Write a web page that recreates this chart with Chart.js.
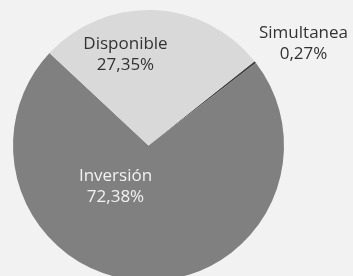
<!DOCTYPE html>
<html>
<head>
<meta charset="utf-8">
<script src="https://cdn.jsdelivr.net/npm/chart.js@4/dist/chart.umd.min.js"></script>
<style>
  html, body { margin: 0; padding: 0; background: #f2f2f2; overflow: hidden; }
  #wrap { position: relative; width: 353px; height: 290px; }
</style>
</head>
<body>
<div id="wrap"><canvas id="pieChart"></canvas></div>
<script>
// Data
var categories = ["Simultanea", "Inversión", "Disponible"];
var shares = [0.27, 72.38, 27.35];
var shareLabels = ["0,27%", "72,38%", "27,35%"];
var sliceColors = ["#404040", "#808080", "#d9d9d9"];

// label placement relative to pie centre (text centre x, first baseline y)
var labelSpots = [
  { dx: 155, dy: -108, color: "#333333" },
  { dx: -33, dy: 35, color: "#f2f2f2" },
  { dx: -23, dy: -97, color: "#333333" }
];

// draws "name / value" labels
var sliceLabels = {
  id: "sliceLabels",
  afterDatasetsDraw: function (chart) {
    var ctx = chart.ctx;
    var meta = chart.getDatasetMeta(0);
    ctx.save();
    ctx.font = "17px 'Open Sans'";
    ctx.textAlign = "center";
    ctx.textBaseline = "alphabetic";
    meta.data.forEach(function (arc, i) {
      var spot = labelSpots[i];
      var x = arc.x + spot.dx;
      var y = arc.y + spot.dy;
      ctx.fillStyle = spot.color;
      ctx.fillText(categories[i], x, y);
      ctx.fillText(shareLabels[i], x, y + 21);
    });
    ctx.restore();
  }
};

var pieCtx = document.getElementById("pieChart").getContext("2d");
var pieChart = new Chart(pieCtx, {
  type: "pie",
  data: {
    labels: categories,
    datasets: [{
      data: shares,
      backgroundColor: sliceColors,
      borderWidth: 0
    }]
  },
  options: {
    responsive: true,
    maintainAspectRatio: false,
    animation: false,
    rotation: 51.5,
    layout: { padding: { left: 13, right: 69, top: 10, bottom: 9 } },
    plugins: {
      legend: { display: false },
      tooltip: { enabled: false }
    }
  },
  plugins: [sliceLabels]
});
</script>
</body>
</html>
